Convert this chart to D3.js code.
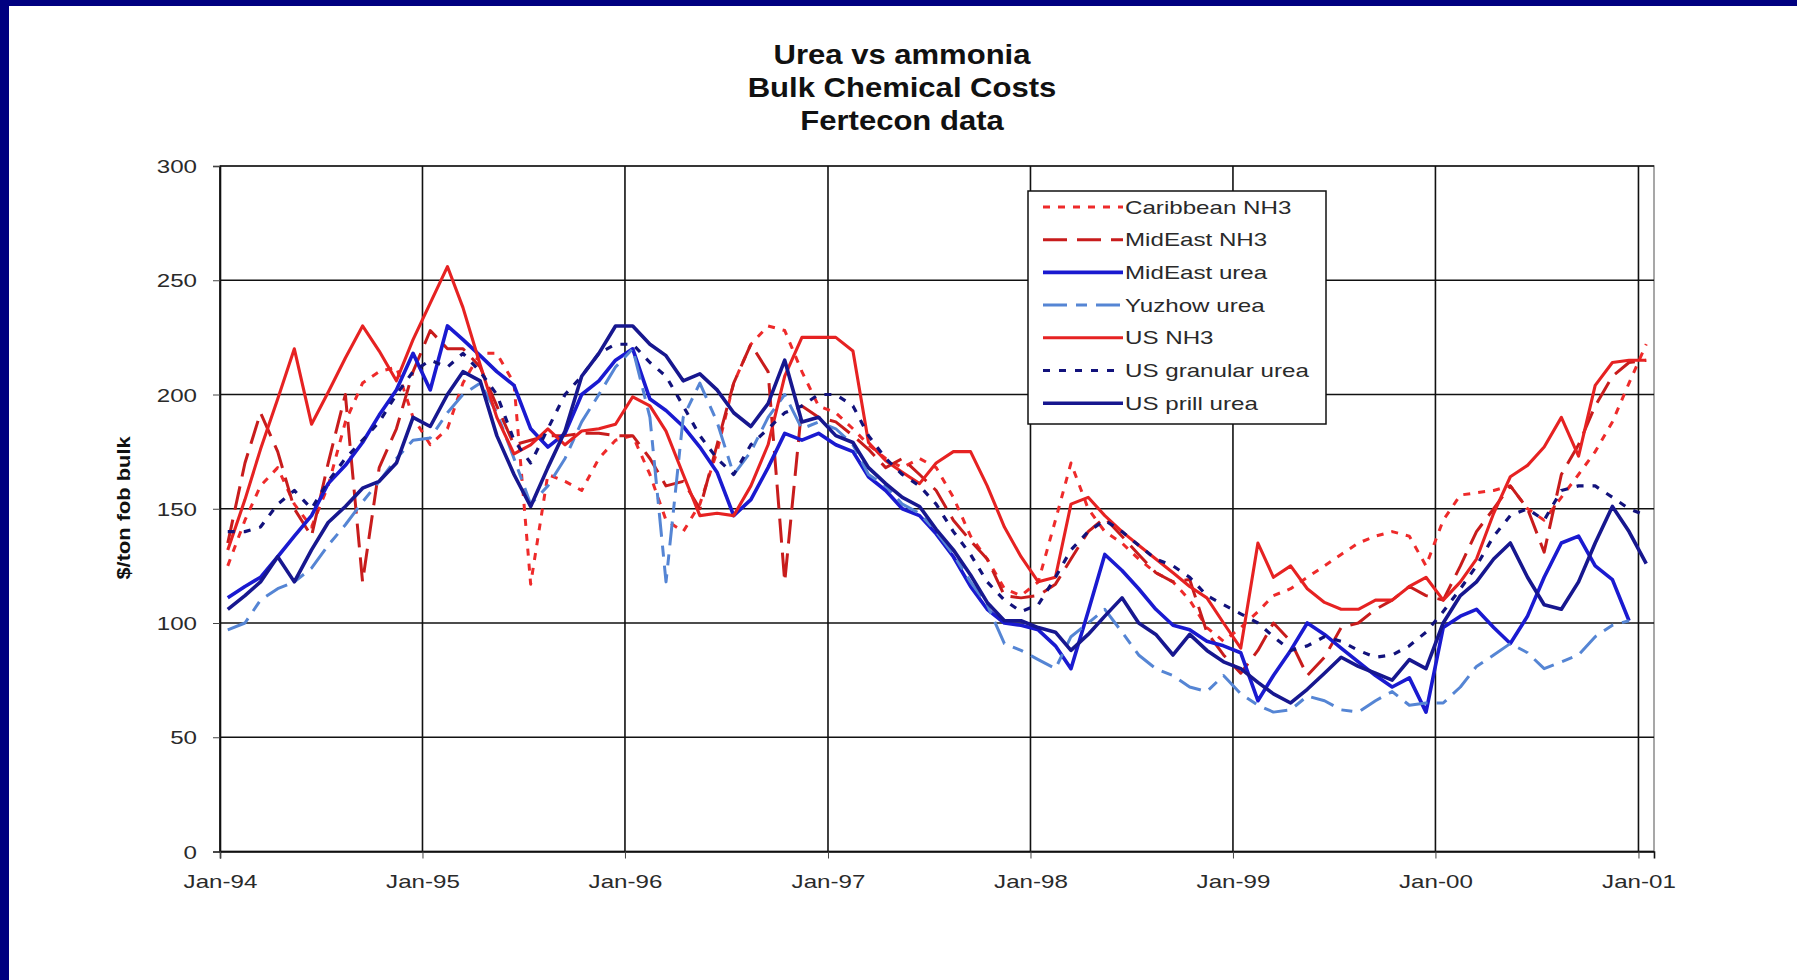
<!DOCTYPE html>
<html>
<head>
<meta charset="utf-8">
<script src="https://cdn.jsdelivr.net/npm/d3@7"></script>
<style>
  html, body { margin: 0; padding: 0; background: #000080; }
  svg { display: block; }
  text { font-family: "Liberation Sans", Arial, sans-serif; }
</style>
</head>
<body>
<svg id="chart" width="1797" height="980"></svg>
<script>
// ---------- DATA (monthly, mid-month, Jan-94 .. Jan-01) ----------
const titleLines = ["Urea vs ammonia", "Bulk Chemical Costs", "Fertecon data"];
const yAxisTitle = "$/ton fob bulk";
const yTicks = [0, 50, 100, 150, 200, 250, 300];
const xTickLabels = ["Jan-94", "Jan-95", "Jan-96", "Jan-97", "Jan-98", "Jan-99", "Jan-00", "Jan-01"];
const xTickYears = [1994, 1995, 1996, 1997, 1998, 1999, 2000, 2001];
const startYear = 1994;

const caribbeanNH3 = [125,145,160,168,152,142,160,188,205,210,212,190,178,185,205,218,218,205,117,165,
  162,158,172,180,182,165,145,140,152,175,205,222,230,228,210,195,192,185,178,172,
  168,172,168,155,138,128,115,112,118,145,170,150,140,135,128,122,118,110,98,92,
  98,105,112,115,120,125,130,135,138,140,138,125,145,156,157,158,160,150,145,155,
  165,175,188,205,222];
const mideastNH3 = [135,170,192,175,150,138,170,200,118,168,185,210,228,220,220,212,195,178,180,182,
  182,183,183,182,182,172,160,162,150,178,205,222,210,118,195,190,188,182,176,168,
  172,165,158,145,136,128,112,111,112,117,128,140,146,138,130,122,118,119,96,86,
  78,88,100,92,77,85,98,100,106,110,116,112,110,125,140,150,160,150,131,165,
  178,195,208,214,215];
const mideastUrea = [111,116,120,129,138,147,161,169,179,191,202,218,202,230,224,217,210,204,185,177,
  183,200,206,215,220,198,193,186,177,166,147,154,168,183,180,183,178,175,164,158,
  150,147,139,129,116,106,100,99,97,90,80,105,130,123,115,106,99,97,92,90,
  87,66,77,88,100,95,89,83,77,72,76,61,98,103,106,98,91,103,120,135,
  138,125,119,101,null];
const yuzhowUrea = [97,100,110,115,118,124,134,143,153,162,172,180,181,192,200,205,192,172,152,160,
  172,188,200,212,220,190,118,190,205,188,165,175,190,200,185,188,185,178,165,160,
  152,148,140,130,118,108,91,88,84,80,94,100,106,96,86,80,77,72,70,77,
  69,64,61,62,68,66,62,61,66,70,64,65,65,72,81,86,91,87,80,83,
  86,94,99,101,null];
const usNH3 = [132,154,176,198,220,187,201,216,230,219,206,224,240,256,238,213,190,174,178,185,
  178,184,185,187,199,195,184,165,147,148,147,160,178,208,225,225,225,219,179,171,
  166,161,170,175,175,160,142,129,118,120,152,155,147,140,134,128,122,116,111,100,
  89,135,120,125,115,109,106,106,110,110,116,120,110,118,128,148,164,169,177,190,
  173,204,214,215,215];
const usGranularUrea = [140,140,142,152,158,150,162,172,180,188,200,210,215,212,218,210,200,180,170,185,
  200,208,218,222,222,214,208,195,182,172,165,178,185,192,195,200,200,195,182,172,
  165,160,152,140,130,118,110,105,108,120,132,140,145,140,134,128,125,120,112,108,
  104,100,94,88,90,94,92,88,85,86,90,96,105,115,125,138,147,150,145,158,
  160,160,155,150,147];
const usPrillUrea = [106,112,118,129,118,132,144,151,159,162,170,190,186,200,210,206,182,165,151,168,
  184,208,218,230,230,222,217,206,209,202,192,186,196,215,188,190,182,179,168,161,
  155,151,141,132,121,109,101,101,98,96,88,95,103,111,100,95,86,95,88,83,
  80,74,69,65,71,78,85,81,78,75,84,80,100,112,118,128,135,120,108,106,
  118,135,151,140,126];

const seriesNames = ["Caribbean NH3", "MidEast NH3", "MidEast urea", "Yuzhow urea", "US NH3", "US granular urea", "US prill urea"];
const seriesValues = [caribbeanNH3, mideastNH3, mideastUrea, yuzhowUrea, usNH3, usGranularUrea, usPrillUrea];
const seriesColors = ["#ee2a2a", "#c81c1c", "#1a1ad0", "#5585d4", "#e62222", "#12127c", "#17178f"];
const seriesDash = ["7,8", "24,10", null, "24,9,11,9", null, "7,9", null];
const seriesWidth = [3, 3, 3.6, 3, 3.1, 3.2, 3.6];

// ---------- LAYOUT ----------
const svg = d3.select("#chart");
svg.append("rect").attr("x", 9).attr("y", 6).attr("width", 1797 - 9).attr("height", 980 - 6).attr("fill", "#ffffff");

const plot = { left: 220, right: 1654, top: 166, bottom: 851.5 };
const x = d3.scaleTime()
  .domain([new Date(startYear, 0, 1), new Date(2001, 0, 29)])
  .range([plot.left, plot.right]);
const y = d3.scaleLinear().domain([0, 300]).range([plot.bottom, plot.top]);

const dateOf = i => new Date(startYear, i, 15);

// plot border
svg.append("rect").attr("x", plot.left).attr("y", plot.top)
  .attr("width", plot.right - plot.left).attr("height", plot.bottom - plot.top)
  .attr("fill", "none").attr("stroke", "#8a8a8a").attr("stroke-width", 1.5);

// gridlines
const grid = svg.append("g");
grid.selectAll("line.h").data(yTicks).join("line")
  .attr("x1", plot.left).attr("x2", plot.right)
  .attr("y1", d => y(d)).attr("y2", d => y(d))
  .attr("stroke", "#111").attr("stroke-width", 1.6);
grid.selectAll("line.v").data(xTickYears).join("line")
  .attr("x1", d => x(new Date(d, 0, 1))).attr("x2", d => x(new Date(d, 0, 1)))
  .attr("y1", plot.top).attr("y2", plot.bottom)
  .attr("stroke", "#111").attr("stroke-width", 1.6);

// axes
const yAxis = d3.axisLeft(y).tickValues(yTicks).tickSize(7).tickPadding(10);
const gy = svg.append("g").attr("transform", `translate(${plot.left},0)`).call(yAxis);
gy.select(".domain").attr("stroke", "#111").attr("stroke-width", 1.6);
gy.selectAll(".tick line").attr("stroke", "#444");
gy.selectAll(".tick text").remove();
gy.selectAll(".tick").append("g")
  .attr("transform", "translate(-23,6.5) scale(1.38,1)")
  .append("text").attr("text-anchor", "end").attr("font-size", 17.5).attr("fill", "#2a2a2a")
  .text(d => d);

const xAxis = d3.axisBottom(x).tickValues(xTickYears.map(yy => new Date(yy, 0, 1))).tickSize(7);
const gx = svg.append("g").attr("transform", `translate(0,${plot.bottom})`).call(xAxis);
gx.select(".domain").attr("stroke", "#111").attr("stroke-width", 1.6);
gx.selectAll(".tick line").attr("stroke", "#444");
gx.selectAll(".tick text").remove();
gx.selectAll(".tick").append("g")
  .attr("transform", "translate(0,36) scale(1.38,1)")
  .append("text").attr("text-anchor", "middle").attr("font-size", 17.5).attr("fill", "#2a2a2a")
  .text((d, i) => xTickLabels[i]);

// series
const line = d3.line()
  .defined(d => d.v != null)
  .x(d => x(d.date)).y(d => y(d.v));
const gs = svg.append("g");
seriesValues.forEach((vals, k) => {
  const pts = vals.map((v, i) => ({ date: dateOf(i), v }));
  gs.append("path").datum(pts)
    .attr("d", line)
    .attr("fill", "none")
    .attr("stroke", seriesColors[k])
    .attr("stroke-width", seriesWidth[k])
    .attr("stroke-dasharray", seriesDash[k])
    .attr("stroke-linejoin", "round")
    .attr("stroke-linecap", "butt");
});

// title
const gt = svg.append("g");
titleLines.forEach((t, i) => {
  gt.append("g").attr("transform", `translate(902,${64 + i * 33}) scale(1.15,1)`)
    .append("text").attr("text-anchor", "middle").attr("font-size", 27).attr("font-weight", "bold")
    .attr("fill", "#111").text(t);
});

// y axis title
svg.append("g").attr("transform", "translate(130,508) rotate(-90) scale(1.15,1)")
  .append("text").attr("text-anchor", "middle").attr("font-size", 19).attr("font-weight", "bold")
  .attr("fill", "#111").text(yAxisTitle);

// legend
const lg = { x: 1028, y: 191, w: 298, h: 233 };
const gl = svg.append("g");
gl.append("rect").attr("x", lg.x).attr("y", lg.y).attr("width", lg.w).attr("height", lg.h)
  .attr("fill", "#fff").attr("stroke", "#111").attr("stroke-width", 1.5);
seriesNames.forEach((name, k) => {
  const cy = 207 + k * 32.7;
  gl.append("line").attr("x1", 1043).attr("x2", 1123).attr("y1", cy).attr("y2", cy)
    .attr("stroke", seriesColors[k]).attr("stroke-width", seriesWidth[k])
    .attr("stroke-dasharray", seriesDash[k]);
  gl.append("g").attr("transform", `translate(1125,${cy + 6.5}) scale(1.38,1)`)
    .append("text").attr("font-size", 17.5).attr("fill", "#2a2a2a").text(name);
});
</script>
</body>
</html>
